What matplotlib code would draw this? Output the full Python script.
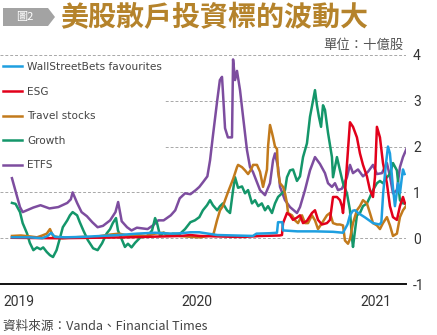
import matplotlib.pyplot as plt
from matplotlib.patches import Polygon

# ---------------------------------------------------------------------------
# trading volume of US retail favourites (billion shares), x in decimal years
# ---------------------------------------------------------------------------

wsb_x = [2019.05, 2019.15, 2019.22, 2019.25, 2019.27, 2019.29, 2019.35, 2019.45,
         2019.55, 2019.65, 2019.75, 2019.85, 2019.95, 2020.00, 2020.05, 2020.10,
         2020.15, 2020.20, 2020.30, 2020.40, 2020.42, 2020.50, 2020.535, 2020.541,
         2020.565, 2020.569, 2020.65, 2020.75, 2020.85, 2020.905, 2020.93, 2020.944,
         2020.96, 2020.972, 2020.99, 2021.03, 2021.073, 2021.11, 2021.12, 2021.13,
         2021.145, 2021.157, 2021.168, 2021.185, 2021.196, 2021.213, 2021.224,
         2021.235, 2021.241, 2021.25]
wsb_y = [0.02, 0.02, 0.0, 0.05, 0.12, 0.03, 0.02, 0.03,
         0.05, 0.07, 0.1, 0.12, 0.1, 0.11, 0.13, 0.13,
         0.1, 0.07, 0.06, 0.05, 0.1, 0.11, 0.12, 0.35,
         0.35, 0.17, 0.15, 0.15, 0.14, 0.12, 0.3, 0.5,
         0.6, 0.61, 0.55, 0.45, 0.33, 0.3, 0.35, 0.98,
         1.6, 2.0, 1.85, 1.1, 0.7, 1.2, 0.98,
         1.33, 1.5, 1.4]

esg_x = [2019.05, 2019.3, 2019.5, 2019.7, 2019.8, 2019.9, 2020.0, 2020.05, 2020.1,
         2020.2, 2020.3, 2020.35, 2020.45, 2020.55, 2020.563, 2020.569, 2020.591,
         2020.608, 2020.625, 2020.647, 2020.664, 2020.681, 2020.703, 2020.731,
         2020.748, 2020.765, 2020.787, 2020.815, 2020.832, 2020.849, 2020.871,
         2020.888, 2020.899, 2020.905, 2020.916, 2020.927, 2020.944, 2020.961,
         2020.983, 2021.0, 2021.017, 2021.039, 2021.056, 2021.073, 2021.084,
         2021.095, 2021.112, 2021.129, 2021.151, 2021.168, 2021.185, 2021.207,
         2021.224, 2021.241, 2021.252]
esg_y = [0.01, 0.0, 0.01, 0.02, 0.03, 0.04, 0.05, 0.07, 0.05,
         0.04, 0.03, 0.03, 0.05, 0.06, 0.07, 0.33, 0.55,
         0.5, 0.4, 0.45, 0.5, 0.33, 0.38, 0.55,
         0.61, 0.4, 0.3, 0.33, 0.4, 0.9, 0.9,
         0.83, 0.7, 0.55, 0.98, 1.6, 2.53, 2.43,
         2.2, 1.85, 1.6, 1.35, 1.05, 0.9, 1.33,
         2.43, 2.2, 1.64, 1.2, 0.7, 0.46, 0.4,
         0.7, 0.9, 0.76]

travel_x = [2019.05, 2019.10, 2019.15, 2019.19, 2019.22, 2019.245, 2019.263, 2019.28,
            2019.33, 2019.40, 2019.45, 2019.50, 2019.55, 2019.60, 2019.65, 2019.70,
            2019.75, 2019.80, 2019.85, 2019.90, 2019.94, 2019.99, 2020.05, 2020.10,
            2020.15, 2020.18, 2020.199, 2020.216, 2020.232, 2020.26, 2020.29, 2020.311,
            2020.317, 2020.339, 2020.356, 2020.373, 2020.39, 2020.401, 2020.423,
            2020.44, 2020.457, 2020.479, 2020.485, 2020.496, 2020.507, 2020.513,
            2020.524, 2020.535, 2020.541, 2020.552, 2020.569, 2020.58, 2020.591,
            2020.597, 2020.619, 2020.636, 2020.653, 2020.675, 2020.692, 2020.709,
            2020.731, 2020.748, 2020.765, 2020.787, 2020.815, 2020.832, 2020.849,
            2020.871, 2020.888, 2020.905, 2020.916, 2020.933, 2020.944, 2020.961,
            2020.983, 2021.0, 2021.017, 2021.039, 2021.056, 2021.073, 2021.095,
            2021.112, 2021.129, 2021.151, 2021.168, 2021.185, 2021.207, 2021.224,
            2021.241, 2021.258]
travel_y = [0.05, 0.06, 0.04, 0.02, 0.06, 0.1, 0.2, 0.05,
            0.0, 0.02, 0.03, 0.02, 0.05, 0.08, 0.1, 0.06,
            0.07, 0.05, 0.1, 0.12, 0.08, 0.05, 0.03, 0.02,
            0.05, 0.1, 0.39, 0.61, 0.7, 1.0, 1.3, 1.55,
            1.6, 1.55, 1.48, 1.4, 1.5, 1.6, 1.6,
            1.45, 1.12, 1.5, 2.0, 2.47, 2.3, 2.2,
            2.0, 1.95, 1.45, 1.2, 1.12, 0.98, 0.76,
            0.55, 0.5, 0.39, 0.33, 0.5, 0.33, 0.33,
            0.5, 0.39, 0.2, 0.33, 0.5, 0.55, 0.33,
            0.3, 0.3, 0.28, -0.05, -0.12, -0.02, 0.33,
            0.61, 0.7, 0.83, 0.76, 0.55, 0.33, 0.28,
            0.2, 0.33, 0.46, 0.28, 0.05, 0.1, 0.46,
            0.61, 0.7]

growth_x = [2019.05, 2019.07, 2019.095, 2019.11, 2019.135, 2019.15, 2019.17, 2019.19,
            2019.21, 2019.225, 2019.245, 2019.263, 2019.28, 2019.30, 2019.32, 2019.335,
            2019.36, 2019.375, 2019.39, 2019.415, 2019.43, 2019.45, 2019.475, 2019.505,
            2019.53, 2019.555, 2019.58, 2019.60, 2019.615, 2019.633, 2019.644, 2019.667,
            2019.683, 2019.70, 2019.72, 2019.74, 2019.77, 2019.81, 2019.835, 2019.852,
            2019.863, 2019.88, 2019.90, 2019.925, 2019.95, 2019.99, 2020.02, 2020.05,
            2020.075, 2020.10, 2020.12, 2020.143, 2020.16, 2020.176, 2020.20, 2020.216,
            2020.232, 2020.255, 2020.272, 2020.289, 2020.30, 2020.317, 2020.339,
            2020.356, 2020.373, 2020.395, 2020.412, 2020.43, 2020.45, 2020.468,
            2020.485, 2020.507, 2020.524, 2020.541, 2020.563, 2020.58, 2020.591,
            2020.608, 2020.625, 2020.647, 2020.664, 2020.681, 2020.703, 2020.72,
            2020.737, 2020.748, 2020.759, 2020.77, 2020.782, 2020.793, 2020.804,
            2020.821, 2020.843, 2020.849, 2020.871, 2020.888, 2020.905, 2020.927,
            2020.944, 2020.955, 2020.961, 2020.97, 2020.983, 2021.0, 2021.017,
            2021.039, 2021.056, 2021.073, 2021.095, 2021.112, 2021.129, 2021.151,
            2021.168, 2021.185, 2021.207, 2021.224, 2021.241, 2021.258]
growth_y = [0.77, 0.75, 0.57, 0.33, 0.1, -0.1, -0.26, -0.2,
            -0.24, -0.2, -0.3, -0.37, -0.41, -0.26, 0.02, 0.24,
            0.39, 0.5, 0.57, 0.5, 0.35, 0.17, -0.04, -0.22,
            -0.26, -0.11, 0.1, 0.2, 0.33, 0.44, 0.17, -0.04,
            -0.19, -0.12, -0.2, -0.1, 0.02, 0.05, 0.17, 0.44,
            0.33, 0.05, 0.12, 0.05, 0.1, 0.09, 0.2, 0.35,
            0.39, 0.46, 0.61, 0.72, 0.83, 0.72, 0.61, 0.7,
            0.76, 0.61, 0.55, 1.05, 1.33, 1.1, 1.13,
            0.98, 1.05, 0.76, 0.83, 0.7, 0.76, 0.61,
            0.7, 0.55, 0.76, 0.9, 0.98, 1.05, 1.33,
            1.48, 1.5, 1.25, 1.35, 1.77, 2.07, 2.65,
            3.0, 3.23, 2.9, 2.65, 2.43, 2.9, 2.8,
            2.3, 1.77, 1.33, 1.77, 1.48, 1.2, 0.98,
            0.61, 0.02, -0.19, 0.1, 0.5, 0.55, 0.7,
            0.76, 0.9, 1.05, 1.2, 1.25, 1.2, 1.33,
            1.4, 1.64, 1.48, 0.83, 0.76, 0.76]

etfs_x = [2019.05, 2019.095, 2019.11, 2019.17, 2019.21, 2019.26, 2019.31, 2019.36,
          2019.38, 2019.39, 2019.415, 2019.44, 2019.47, 2019.50, 2019.53, 2019.56,
          2019.60, 2019.63, 2019.645, 2019.665, 2019.695, 2019.72, 2019.75, 2019.81,
          2019.84, 2019.87, 2019.90, 2019.94, 2019.965, 2019.99, 2020.02, 2020.05,
          2020.08, 2020.10, 2020.12, 2020.145, 2020.16, 2020.175, 2020.20, 2020.215,
          2020.227, 2020.232, 2020.244, 2020.26, 2020.283, 2020.289, 2020.30, 2020.311,
          2020.328, 2020.345, 2020.367, 2020.384, 2020.40, 2020.44, 2020.468, 2020.496,
          2020.513, 2020.524, 2020.541, 2020.552, 2020.58, 2020.608, 2020.647, 2020.664,
          2020.692, 2020.72, 2020.748, 2020.776, 2020.804, 2020.821, 2020.843, 2020.86,
          2020.877, 2020.899, 2020.927, 2020.944, 2020.961, 2020.989, 2021.017,
          2021.045, 2021.073, 2021.095, 2021.123, 2021.151, 2021.168, 2021.185,
          2021.207, 2021.224, 2021.241, 2021.263]
etfs_y = [1.31, 0.68, 0.57, 0.67, 0.72, 0.65, 0.68, 0.77,
          0.85, 1.0, 0.77, 0.57, 0.48, 0.35, 0.24, 0.27,
          0.39, 0.57, 0.79, 0.37, 0.24, 0.17, 0.23, 0.2,
          0.28, 0.39, 0.39, 0.5, 0.61, 0.87, 0.98, 0.96,
          1.05, 1.12, 1.22, 1.35, 1.7, 2.2, 3.0, 3.45,
          3.52, 3.2, 2.4, 2.2, 2.2, 3.9, 3.45, 3.65,
          3.23, 2.65, 1.92, 1.55, 1.45, 1.05, 0.94, 1.2,
          1.7, 1.85, 1.55, 1.12, 0.83, 0.68, 0.55, 0.68,
          1.05, 1.48, 1.77, 1.62, 1.42, 1.2, 1.12, 1.2,
          1.05, 1.08, 1.33, 1.6, 1.42, 1.5, 1.35,
          1.45, 1.6, 1.4, 1.42, 1.64, 1.35, 0.98,
          1.05, 1.55, 1.77, 1.97]

series = [
    ('WallStreetBets favourites', wsb_x, wsb_y, '#1e9fe0'),
    ('ESG', esg_x, esg_y, '#e2001a'),
    ('Travel stocks', travel_x, travel_y, '#c27a1c'),
    ('Growth', growth_x, growth_y, '#14966a'),
    ('ETFS', etfs_x, etfs_y, '#7d4d9f'),
]

year_ticks = [2019, 2020, 2021]
value_ticks = [-1, 0, 1, 2, 3, 4]

fig = plt.figure(figsize=(4.37, 3.35), dpi=100)
ax = fig.add_axes([0, 0.152, 406 / 437, 0.687])

# draw back to front so that ETFS sits under the others
for name, xs, ys, col in series[::-1]:
    ax.plot(xs, ys, color=col, lw=1.8, label=name, solid_joinstyle='round')

ax.set_xlim(2018.983, 2021.258)
ax.set_ylim(-1, 4.02)

for v in value_ticks[1:]:
    ax.axhline(v, color='#a8a8a8', lw=0.7, ls=(0, (3, 2)), zorder=0)

for s in ['top', 'left', 'right']:
    ax.spines[s].set_visible(False)
ax.spines['bottom'].set_color('#111111')
ax.spines['bottom'].set_linewidth(1.4)
ax.spines['bottom'].set_position(('data', -1))

ax.set_xticks(year_ticks)
ax.set_xticklabels([str(y) for y in year_ticks], ha='left', fontsize=10,
                   family='Roboto', color='#333333')
ax.tick_params(axis='x', length=0, pad=8)

ax.yaxis.tick_right()
ax.set_yticks(value_ticks)
ax.set_yticklabels([str(v) for v in value_ticks], fontsize=10,
                   family='Roboto', color='#333333')
ax.tick_params(axis='y', length=0, pad=5)

handles, labels = ax.get_legend_handles_labels()
leg = ax.legend(handles[::-1], labels[::-1], loc='upper left',
                bbox_to_anchor=(0.0, 1 - 59 / 335), bbox_transform=fig.transFigure,
                frameon=True, facecolor='white', edgecolor='none', framealpha=1,
                fontsize=7.6, handlelength=1.8, handletextpad=0.45,
                labelspacing=1.38, borderpad=0.3, borderaxespad=0)
leg.get_frame().set_boxstyle('square', pad=0)
for t in leg.get_texts():
    t.set_color('#444444')

# heading
tag = Polygon([[3 / 437, 1 - 8 / 335], [48 / 437, 1 - 8 / 335], [55 / 437, 1 - 17 / 335],
               [48 / 437, 1 - 26 / 335], [3 / 437, 1 - 26 / 335]],
              closed=True, transform=fig.transFigure, facecolor='#a3a3a3',
              edgecolor='none')
fig.patches.append(tag)
fig.text(25 / 437, 1 - 17 / 335, '圖2', ha='center', va='center', color='white',
         fontsize=8, family=['Noto Sans CJK TC', 'DejaVu Sans'])
fig.text(60 / 437, 1 - 18 / 335, '美股散戶投資標的波動大', ha='left', va='center',
         color='#b5832b', fontsize=20.2, fontweight='bold',
         family=['Noto Sans CJK TC', 'DejaVu Sans'])
fig.text(404 / 437, 1 - 45 / 335, '單位：十億股', ha='right', va='center',
         color='#555555', fontsize=9.6, family=['Noto Sans CJK TC', 'DejaVu Sans'])
fig.text(3 / 437, 1 - 326 / 335, '資料來源：Vanda、Financial Times', ha='left',
         va='center', color='#444444', fontsize=9.1,
         family=['Noto Sans CJK TC', 'DejaVu Sans'])

fig.savefig('out.png', dpi=100, facecolor='white')
